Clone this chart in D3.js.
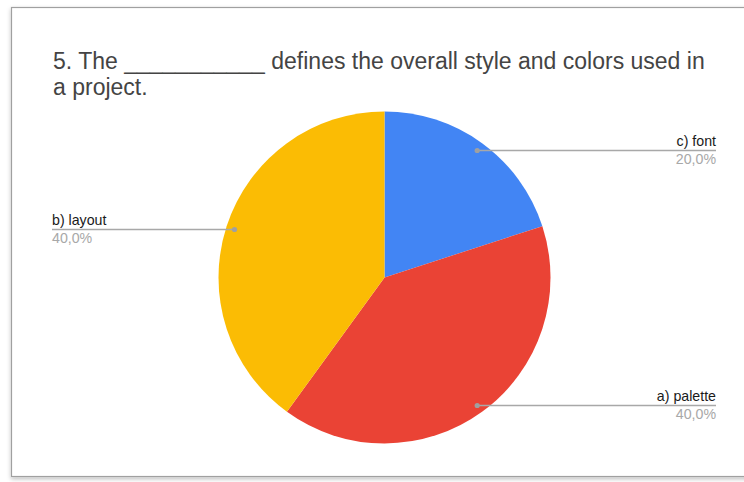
<!DOCTYPE html>
<html>
<head>
<meta charset="utf-8">
<script src="https://cdn.jsdelivr.net/npm/d3@7"></script>
<style>
  html, body { margin: 0; padding: 0; background: #ffffff; }
  svg { display: block; }
</style>
</head>
<body>
<svg id="chart" width="744" height="482"></svg>
<script>
// Survey answers, in slice order clockwise from 12 o'clock
const categories = ["c) font", "a) palette", "b) layout"];
const values = [20, 40, 40];
const percentLabels = ["20,0%", "40,0%", "40,0%"];
const colors = ["#4285f4", "#ea4335", "#fbbc04"];
const titleLines = ["5. The ___________ defines the overall style and colors used in", "a project."];

const svg = d3.select("#chart");

// card frame with soft shadow
const defs = svg.append("defs");
const f = defs.append("filter").attr("id", "shadow").attr("x", "-5%").attr("y", "-5%").attr("width", "110%").attr("height", "110%");
f.append("feDropShadow").attr("dx", 0).attr("dy", 2).attr("stdDeviation", 2).attr("flood-color", "#000").attr("flood-opacity", 0.25);

svg.append("rect")
  .attr("x", 11.5).attr("y", 7.5).attr("width", 760).attr("height", 469)
  .attr("fill", "#ffffff").attr("stroke", "#a0a0a0").attr("stroke-width", 1.2)
  .attr("filter", "url(#shadow)");

// title, two lines
titleLines.forEach((t, i) => {
  svg.append("text")
    .attr("x", 53).attr("y", 68.5 + i * 26)
    .attr("font-family", "Liberation Sans, Arial, sans-serif")
    .attr("font-size", 23).attr("fill", "#444444")
    .text(t);
});

// pie
const cx = 384.5, cy = 277.5, r = 166;
const pie = d3.pie().value(d => d).sort(null);
const arcs = pie(values);
const arc = d3.arc().innerRadius(0).outerRadius(r);

const g = svg.append("g").attr("transform", `translate(${cx},${cy})`);
g.selectAll("path").data(arcs).join("path")
  .attr("d", arc)
  .attr("fill", (d, i) => colors[i]);

// leader lines and labels
const labelArc = d3.arc().innerRadius(r * 0.95).outerRadius(r * 0.95);
const rightX = 716, leftX = 52;
arcs.forEach((d, i) => {
  const [px, py] = labelArc.centroid(d);
  const x = cx + px, y = Math.round(cy + py) + 0.5;
  const mid = (d.startAngle + d.endAngle) / 2;
  const right = mid < Math.PI;
  const endX = right ? rightX : leftX;
  svg.append("line")
    .attr("x1", x).attr("y1", y).attr("x2", endX).attr("y2", y)
    .attr("stroke", "#a8a8a8").attr("stroke-width", 1.4);
  svg.append("circle").attr("cx", x).attr("cy", y).attr("r", 2.6).attr("fill", "#a0a0a0");
  const anchor = right ? "end" : "start";
  svg.append("text")
    .attr("x", endX).attr("y", y - 5)
    .attr("text-anchor", anchor)
    .attr("font-family", "Liberation Sans, Arial, sans-serif")
    .attr("font-size", 14.2).attr("fill", "#1a1a1a")
    .text(categories[i]);
  svg.append("text")
    .attr("x", endX).attr("y", y + 13)
    .attr("text-anchor", anchor)
    .attr("font-family", "Liberation Sans, Arial, sans-serif")
    .attr("font-size", 14.2).attr("fill", "#a8a8a8")
    .text(percentLabels[i]);
});
</script>
</body>
</html>
